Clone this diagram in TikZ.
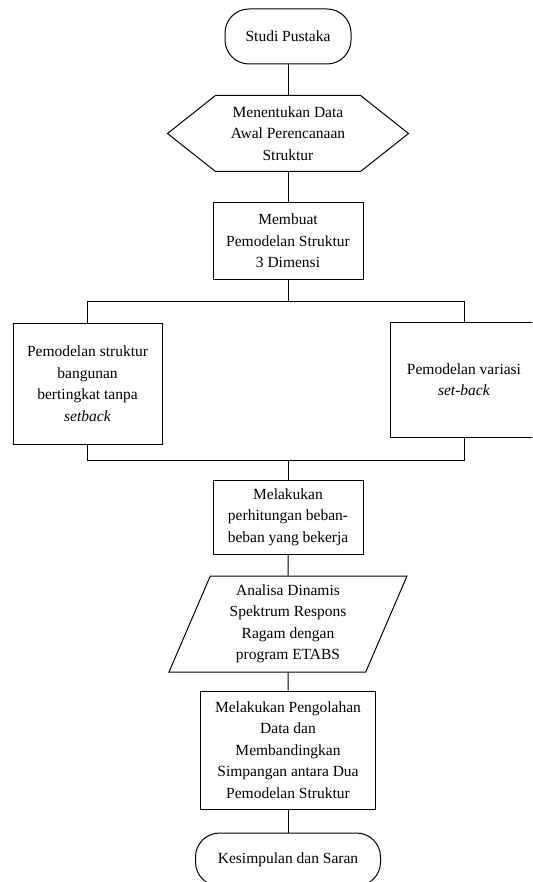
\documentclass[tikz,border=0pt]{standalone}
\usepackage{fontspec}
\setmainfont{Liberation Serif}
\newfontfamily\flowfont{Liberation Serif}
\usepackage{tikz}
\usetikzlibrary{shapes.geometric, positioning, calc}
\tikzset{
  base/.style={
    align=center, font=\flowfont\fontsize{15.5}{21.5}\selectfont,
    line width=1pt, inner sep=3pt,
  },
  startstop/.style={
    base, rectangle, rounded corners=24pt, draw,
    minimum width=126pt, minimum height=55pt,
  },
  process/.style={
    base, rectangle, draw,
    minimum width=150pt, minimum height=76pt,
  },
  prep/.style={
    base, rectangle, outer sep=0pt,
    minimum width=145pt, minimum height=76pt,
  },
  io/.style={
    base, trapezium, draw,
    trapezium left angle=64, trapezium right angle=116,
    trapezium stretches body,
    minimum width=238pt, minimum height=96pt,
  },
  line/.style={line width=1pt},
}

\begin{document}
\begin{tikzpicture}
  \useasboundingbox (0,0) rectangle (532pt,-882pt);
  \clip (0,0) rectangle (532pt,-882pt);
  \node[startstop] (start) at (288pt,-36.5pt) {Studi Pustaka};
  \node[prep,below=31pt of start] (data) {Menentukan Data\\Awal Perencanaan\\Struktur};
  \draw[line] (data.north west) -- (data.north east) -- ([xshift=48pt]data.east)
    -- (data.south east) -- (data.south west) -- ([xshift=-48pt]data.west) -- cycle;
  \node[process,below=31pt of data] (model) {Membuat\\Pemodelan Struktur\\3 Dimensi};
  \coordinate[below=22pt of model] (split);
  \node[process,minimum width=149pt,minimum height=121pt,below left=43pt and 50pt of model] (plain)
    {Pemodelan struktur\\bangunan\\bertingkat tanpa\\\textit{setback}};
  \node[process,minimum width=148pt,minimum height=115pt,below right=42pt and 26pt of model] (setback)
    {Pemodelan variasi\\\textit{set-back}};
  \coordinate[below=181pt of model] (merge);
  \node[process,minimum height=74pt,below=19pt of merge] (load) {Melakukan\\perhitungan beban-\\beban yang bekerja};
  \node[io,below=21pt of load] (etabs) {Analisa Dinamis\\Spektrum Respons\\Ragam dengan\\program ETABS};
  \node[process,minimum width=175pt,minimum height=118pt,below=18pt of etabs] (compare)
    {Melakukan Pengolahan\\Data dan\\Membandingkan\\Simpangan antara Dua\\Pemodelan Struktur};
  \node[startstop,minimum width=185pt,minimum height=53pt,below=23pt of compare] (finish) {Kesimpulan dan Saran};
  \draw[line] (start) -- (data);
  \draw[line] (data) -- (model);
  \draw[line] (model) -- (split);
  \draw[line] (plain.north) |- (split) -| (setback.north);
  \draw[line] (plain.south) |- (merge) -| (setback.south);
  \draw[line] (merge) -- (load);
  \draw[line] (load) -- (etabs);
  \draw[line] (etabs) -- (compare);
  \draw[line] (compare) -- (finish);
\end{tikzpicture}
\end{document}
